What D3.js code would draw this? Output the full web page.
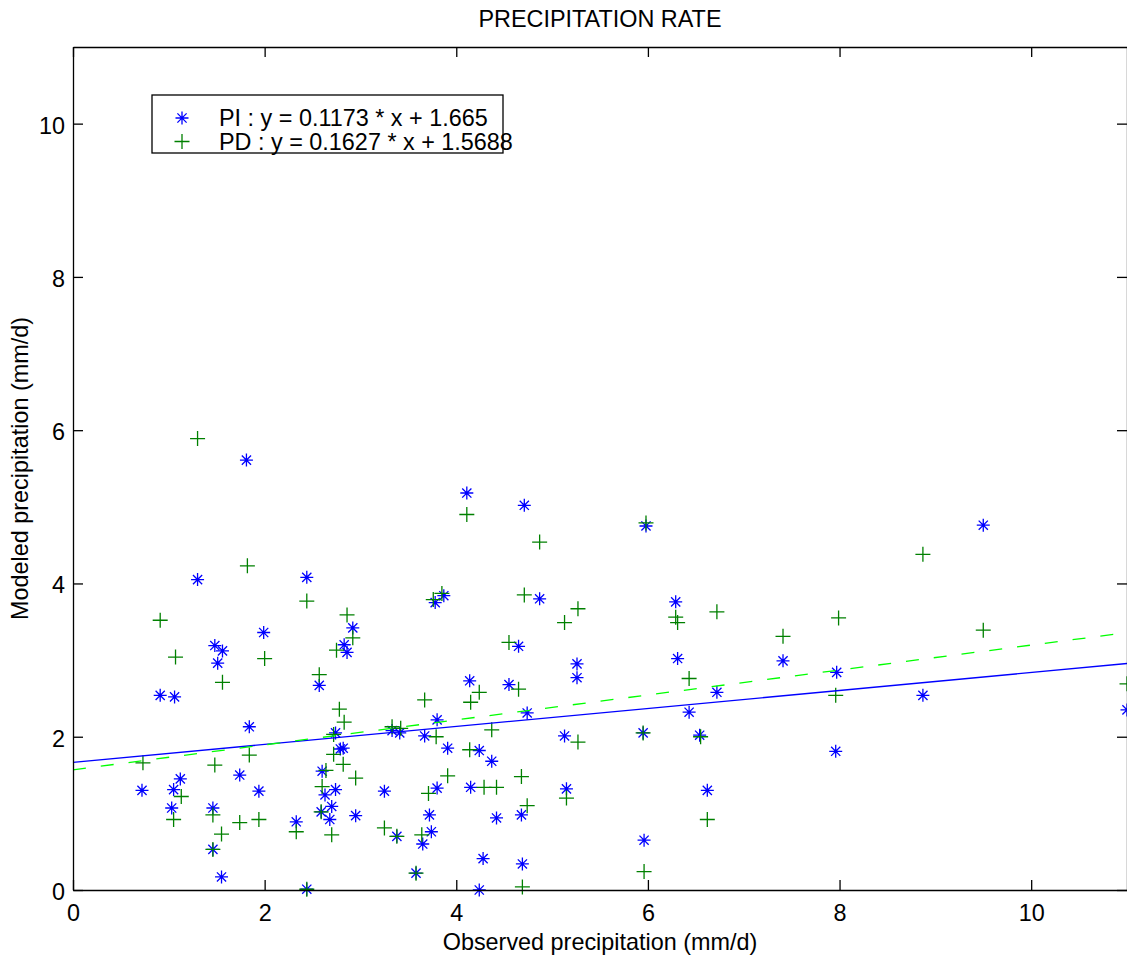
<!DOCTYPE html>
<html>
<head>
<meta charset="utf-8">
<script src="https://cdnjs.cloudflare.com/ajax/libs/d3/7.8.5/d3.min.js"></script>
<style>
body { margin: 0; background: #fff; }
text { font-family: "Liberation Sans", Arial, Helvetica, sans-serif; fill: #000; }
</style>
</head>
<body>
<svg id="chart" width="1127" height="958"></svg>
<script>
// PI run : observed vs modeled (mm/d)
var piObs = [0.72, 0.91, 1.03, 1.05, 1.06, 1.12, 1.30, 1.46, 1.46, 1.48, 1.51, 1.55, 1.56, 1.74, 1.81, 1.84,
	1.94, 1.99, 2.33, 2.44, 2.44, 2.57, 2.60, 2.59, 2.63, 2.68, 2.70, 2.74, 2.74, 2.79, 2.82, 2.83, 2.86,
	2.92, 2.95, 3.25, 3.33, 3.38, 3.41, 3.58, 3.65, 3.67, 3.72, 3.74, 3.78, 3.80, 3.80, 3.87, 3.91, 4.11,
	4.14, 4.15, 4.24, 4.24, 4.28, 4.37, 4.42, 4.55, 4.65, 4.68, 4.69, 4.71, 4.74, 4.87, 5.13, 5.15, 5.26,
	5.26, 5.95, 5.96, 5.98, 6.29, 6.31, 6.43, 6.54, 6.62, 6.72, 7.41, 7.97, 7.96, 8.87, 9.50, 11.0];
var piMod = [1.30, 2.54, 1.07, 1.31, 2.52, 1.45, 4.05, 1.07, 0.53, 3.19, 2.96, 0.17, 3.12, 1.50, 5.61, 2.13,
	1.29, 3.36, 0.89, 4.08, 0.01, 2.67, 1.55, 1.02, 1.24, 0.92, 1.09, 1.31, 2.05, 1.84, 1.85, 3.20, 3.10,
	3.42, 0.97, 1.29, 2.08, 0.70, 2.05, 0.22, 0.60, 2.01, 0.98, 0.76, 3.75, 1.33, 2.22, 3.84, 1.85, 5.18,
	2.73, 1.34, 1.82, 0.00, 0.41, 1.68, 0.94, 2.68, 3.18, 0.98, 0.34, 5.02, 2.31, 3.80, 2.01, 1.32, 2.95,
	2.77, 2.05, 0.65, 4.75, 3.76, 3.02, 2.32, 2.02, 1.30, 2.58, 2.99, 2.84, 1.81, 2.54, 4.76, 2.35];

// PD run
var pdObs = [0.73, 0.91, 1.05, 1.07, 1.13, 1.30, 1.46, 1.46, 1.48, 1.55, 1.56, 1.74, 1.82, 1.84, 1.94, 2.00,
	2.33, 2.44, 2.44, 2.57, 2.60, 2.59, 2.64, 2.70, 2.72, 2.72, 2.75, 2.78, 2.82, 2.83, 2.86, 2.92, 2.95,
	3.25, 3.33, 3.38, 3.42, 3.58, 3.64, 3.67, 3.71, 3.76, 3.79, 3.85, 3.91, 4.11, 4.14, 4.15, 4.24, 4.29,
	4.37, 4.42, 4.55, 4.65, 4.68, 4.69, 4.71, 4.74, 4.87, 5.13, 5.15, 5.27, 5.27, 5.95, 5.96, 5.98, 6.29,
	6.31, 6.43, 6.55, 6.62, 6.72, 7.41, 7.99, 7.96, 8.87, 9.50, 11.0];
var pdMod = [1.66, 3.52, 0.92, 3.04, 1.22, 5.89, 0.98, 0.53, 1.63, 0.73, 2.71, 0.88, 4.23, 1.76, 0.92, 3.02,
	0.76, 3.77, 0.01, 2.81, 1.35, 1.02, 1.56, 0.72, 1.77, 2.03, 3.13, 2.36, 1.64, 2.19, 3.59, 3.29, 1.46,
	0.81, 2.13, 0.70, 2.11, 0.22, 0.72, 2.48, 1.26, 3.79, 2.00, 3.87, 1.49, 4.90, 1.83, 2.45, 2.58, 1.34,
	2.09, 1.34, 3.23, 2.62, 1.48, 0.04, 3.85, 1.10, 4.54, 3.49, 1.20, 3.67, 1.93, 2.05, 0.24, 4.79, 3.56,
	3.49, 2.76, 2.00, 0.92, 3.63, 3.31, 3.55, 2.54, 4.38, 3.39, 2.69];

// regression y = a * x + b
var piFit = [0.1173, 1.665];
var pdFit = [0.1627, 1.5688];

var xTicks = [0, 2, 4, 6, 8, 10];
var yTicks = [0, 2, 4, 6, 8, 10];
var axisMax = 11;

var legendLabels = ["PI : y = 0.1173 * x + 1.665", "PD : y = 0.1627 * x + 1.5688"];

function drawChart() {
	var svg = d3.select("#chart");
	var mLeft = 73, mTop = 47, mRight = 1127, mBottom = 890;
	var fs = 23.4;

	var x = d3.scaleLinear().domain([0, axisMax]).range([mLeft, mRight]);
	var y = d3.scaleLinear().domain([0, axisMax]).range([mBottom, mTop]);

	svg.append("rect").attr("width", 1127).attr("height", 958).attr("fill", "#fff");

	// markers
	function starPath(r) {
		var d = r * 0.707;
		return "M0," + (-r) + "V" + r + "M" + (-r) + ",0H" + r +
			"M" + (-d) + "," + (-d) + "L" + d + "," + d +
			"M" + (-d) + "," + d + "L" + d + "," + (-d);
	}
	function plusPath(r) {
		return "M0," + (-r) + "V" + r + "M" + (-r) + ",0H" + r;
	}

	function scatter(xs, ys, shape, color, cls) {
		svg.append("g").attr("class", cls)
			.selectAll("path").data(xs).enter().append("path")
			.attr("transform", function(d, i) {
				return "translate(" + x(d) + "," + y(ys[i]) + ")";
			})
			.attr("d", shape)
			.attr("fill", "none")
			.attr("stroke", color)
			.attr("stroke-width", 1.3);
	}

	scatter(piObs, piMod, starPath(6.5), "#0000ff", "pi");
	scatter(pdObs, pdMod, plusPath(7.5), "#008000", "pd");

	// fitted lines
	function fitLine(fit, color, dash) {
		var line = d3.line()
			.x(function(d) { return x(d); })
			.y(function(d) { return y(fit[0] * d + fit[1]); });
		svg.append("path").datum([0, axisMax])
			.attr("d", line)
			.attr("fill", "none")
			.attr("stroke", color)
			.attr("stroke-width", 1.3)
			.attr("stroke-dasharray", dash);
	}
	fitLine(piFit, "#0000ff", null);
	fitLine(pdFit, "#00ff00", "13,15");

	// axes, ticks inside on all four sides
	function styleAxis(g) {
		g.selectAll("path, line").attr("stroke", "#000").attr("stroke-width", 1.3);
		g.selectAll("text").attr("font-size", fs).attr("font-family", null).attr("fill", "#000");
	}
	svg.append("g").attr("transform", "translate(0," + mBottom + ")")
		.call(d3.axisBottom(x).tickValues(xTicks).tickSize(-10).tickSizeOuter(0).tickPadding(14))
		.call(styleAxis);
	svg.append("g").attr("transform", "translate(" + mLeft + ",0)")
		.call(d3.axisLeft(y).tickValues(yTicks).tickSize(-10).tickSizeOuter(0).tickPadding(8))
		.call(styleAxis)
		.selectAll("text").attr("dy", "0.4em");
	svg.append("g").attr("transform", "translate(0," + mTop + ")")
		.call(d3.axisTop(x).tickValues(xTicks).tickSize(-10).tickSizeOuter(0).tickFormat(""))
		.call(styleAxis);
	svg.append("g").attr("transform", "translate(" + mRight + ",0)")
		.call(d3.axisRight(y).tickValues(yTicks).tickSize(-10).tickSizeOuter(0).tickFormat(""))
		.call(styleAxis);

	// titles
	svg.append("text").attr("x", (mLeft + mRight) / 2).attr("y", 27)
		.attr("text-anchor", "middle").attr("font-size", fs).text("PRECIPITATION RATE");
	svg.append("text").attr("x", (mLeft + mRight) / 2).attr("y", 950)
		.attr("text-anchor", "middle").attr("font-size", fs).text("Observed precipitation (mm/d)");
	svg.append("text").attr("transform", "translate(28," + ((mTop + mBottom) / 2) + ") rotate(-90)")
		.attr("text-anchor", "middle").attr("font-size", fs).text("Modeled precipitation (mm/d)");

	// legend
	var lg = svg.append("g").attr("class", "legend");
	lg.append("rect").attr("x", 152).attr("y", 95).attr("width", 351).attr("height", 58)
		.attr("fill", "#fff").attr("stroke", "#000").attr("stroke-width", 1.3);
	var legendShapes = [starPath(6.5), plusPath(7.5)];
	var legendColors = ["#0000ff", "#008000"];
	lg.selectAll("path").data(legendLabels).enter().append("path")
		.attr("transform", function(d, i) { return "translate(182," + (118 + i * 23.5) + ")"; })
		.attr("d", function(d, i) { return legendShapes[i]; })
		.attr("fill", "none").attr("stroke", function(d, i) { return legendColors[i]; })
		.attr("stroke-width", 1.3);
	lg.selectAll("text").data(legendLabels).enter().append("text")
		.attr("x", 219).attr("y", function(d, i) { return 126 + i * 23.5; })
		.attr("font-size", fs).text(function(d) { return d; });
}

drawChart();
</script>
</body>
</html>
